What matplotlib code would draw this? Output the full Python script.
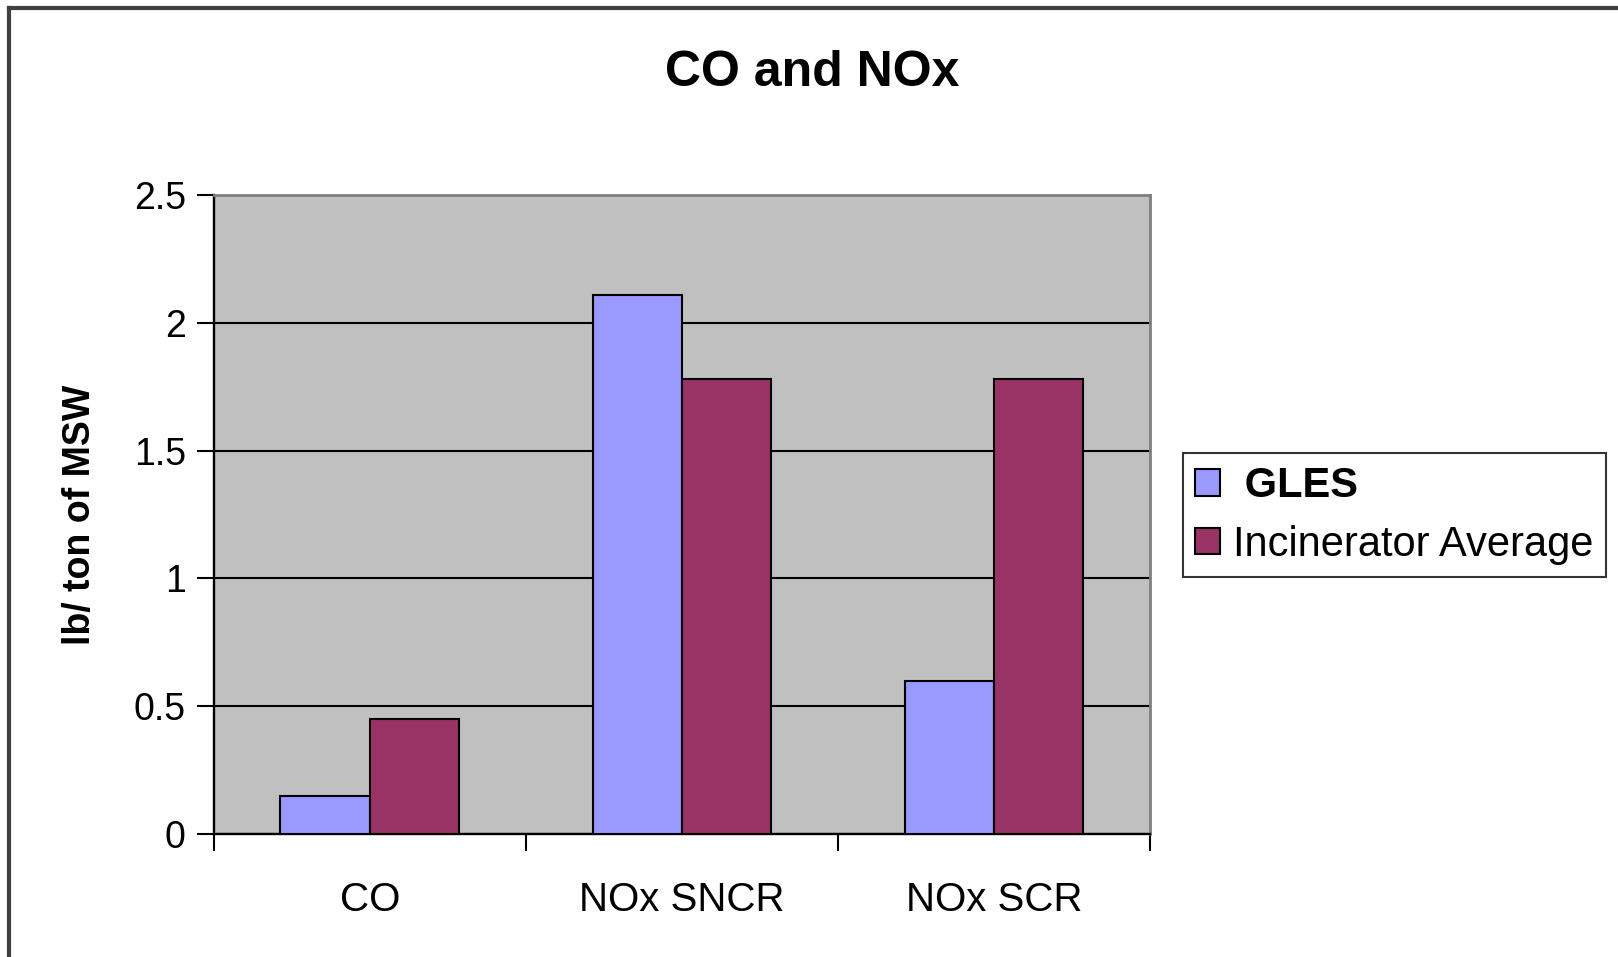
import numpy as np
import matplotlib.pyplot as plt
import matplotlib
from matplotlib.lines import Line2D

matplotlib.rcParams["font.family"] = ["Liberation Sans", "DejaVu Sans"]

categories = ["CO", "NOx SNCR", "NOx SCR"]
gles = [0.15, 2.11, 0.60]
incinerator = [0.45, 1.78, 1.78]
series_names = ["GLES", "Incinerator Average"]
yticks = [0, 0.5, 1, 1.5, 2, 2.5]
ytick_labels = ["0", "0.5", "1", "1.5", "2", "2.5"]

fig = plt.figure(figsize=(16.18, 9.57), dpi=100)
ax = fig.add_axes([0.132, 0.1285, 0.579, 0.6677])
ax.set_facecolor("#C0C0C0")

x = np.arange(len(categories))
width = 1 / 3.5
ax.bar(x - width / 2, gles, width, color="#9999FF", edgecolor="black",
       linewidth=1.5, label=series_names[0], zorder=3)
ax.bar(x + width / 2, incinerator, width, color="#993366", edgecolor="black",
       linewidth=1.5, label=series_names[1], zorder=3)

ax.set_xlim(-0.5, len(categories) - 0.5)
ax.set_ylim(0, 2.5)

ax.set_yticks(yticks)
ax.set_yticklabels(ytick_labels, fontsize=27)
ax.yaxis.grid(True, color="black", linewidth=1.5, zorder=1)
ax.set_axisbelow(True)
ax.tick_params(axis="y", length=12, width=1.5, pad=8)

ax.set_xticks(x)
ax.set_xticklabels(categories, fontsize=29)
ax.set_xticks(np.arange(len(categories) + 1) - 0.5, minor=True)
ax.tick_params(axis="x", which="major", length=0, pad=34)
ax.tick_params(axis="x", which="minor", length=12, width=1.5)

for side in ["top", "right"]:
    ax.spines[side].set_color("#808080")
    ax.spines[side].set_linewidth(2)
for side in ["left", "bottom"]:
    ax.spines[side].set_linewidth(1.7)

ax.set_ylabel("lb/ ton of MSW", fontsize=27, fontweight="bold", labelpad=26)

fig.text(0.502, 0.924, "CO and NOx", fontsize=36, fontweight="bold",
         ha="center", va="center")

leg = ax.legend(loc="center left", bbox_to_anchor=(0.731, 0.4615),
                bbox_transform=fig.transFigure, fontsize=30, frameon=True,
                fancybox=False, edgecolor="black", handlelength=0.6,
                handleheight=0.6, handletextpad=0.3, borderpad=0.3,
                labelspacing=0.45, borderaxespad=0)
leg.get_frame().set_linewidth(1.5)
leg.get_texts()[0].set_fontweight("bold")
leg.get_texts()[0].set_text(" GLES")

# outer chart border (top and left edges)
fig.add_artist(Line2D([0.0056, 1.0], [0.9915, 0.9915], color="#404040",
                      linewidth=3, transform=fig.transFigure))
fig.add_artist(Line2D([0.0056, 0.0056], [0.0, 0.9915], color="#404040",
                      linewidth=3, transform=fig.transFigure))

fig.savefig("out.png", dpi=100, facecolor="white")
